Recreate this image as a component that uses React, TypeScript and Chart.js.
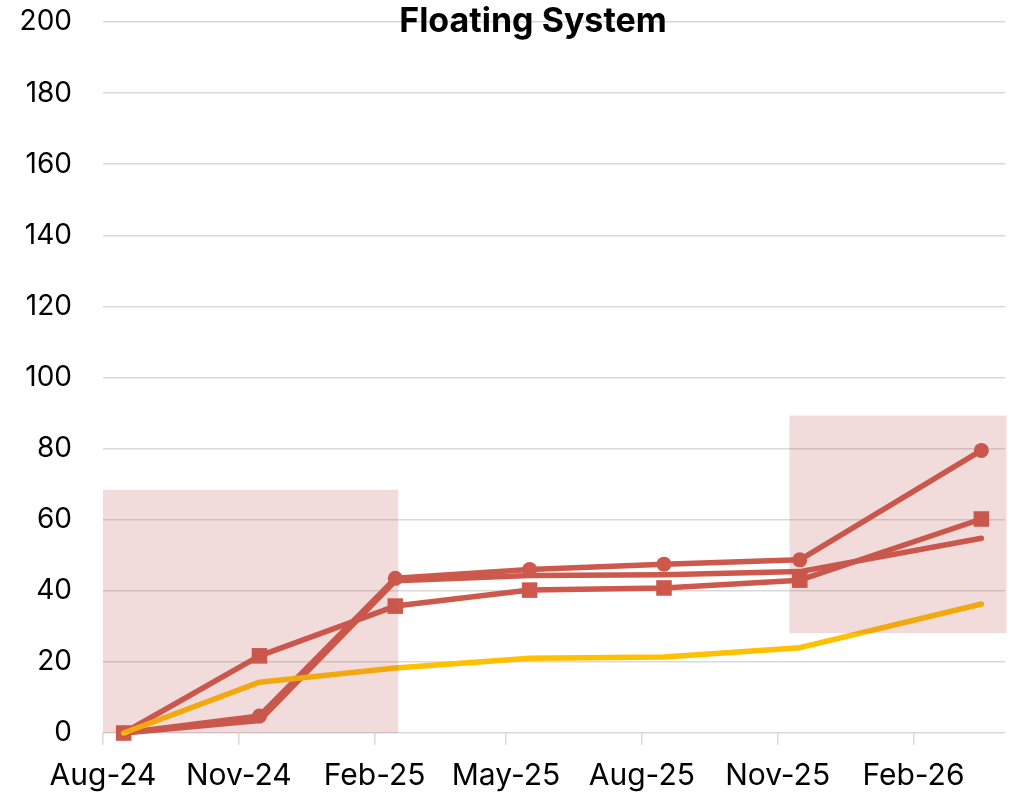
import { useEffect, useRef } from 'react';
import { Chart, registerables } from 'chart.js';

Chart.register(...registerables);

// ---- data ----
const pointDates = ['2024-08-15', '2024-11-15', '2025-02-15', '2025-05-17', '2025-08-16', '2025-11-16', '2026-03-19'];
const circleSeries = [0, 4.8, 43.5, 46, 47.5, 48.7, 79.5];
const squareSeries = [0, 21.7, 35.7, 40.2, 40.8, 43, 60.2];
const plainSeries = [0, 3.5, 42.8, 44.3, 44.5, 45.4, 54.8];
const yellowSeries = [0, 14.3, 18.3, 21, 21.4, 24, 36.3];

const tickDates = ['2024-08-01', '2024-11-01', '2025-02-01', '2025-05-01', '2025-08-01', '2025-11-01', '2026-02-01'];
const tickLabels = ['Aug-24', 'Nov-24', 'Feb-25', 'May-25', 'Aug-25', 'Nov-25', 'Feb-26'];
const yTicks = [0, 20, 40, 60, 80, 100, 120, 140, 160, 180, 200];

const axisRange = ['2024-08-01', '2026-04-04'];
const highlight1X = ['2024-08-01', '2025-02-17'];
const highlight1Y = [0, 68.4];
const highlight2X = ['2025-11-09', '2026-04-05'];
const highlight2Y = [28.1, 89.3];

const titleText = 'Floating System';

// ---- helpers ----
const DAY = 86400000;
const base = Date.UTC(2024, 7, 1);
const toDay = (s: string) => {
  const [y, m, d] = s.split('-').map(Number);
  return (Date.UTC(y, m - 1, d) - base) / DAY;
};

const RED = 'rgb(205,89,77)';
const YELLOW = '#FFC000';
const GRID = '#d9d9d9';
const FONT = 'Inter, "Liberation Sans", Arial, sans-serif';

const xy = (vals: number[]) => vals.map((v, i) => ({ x: toDay(pointDates[i]), y: v }));

const overlayPlugin = {
  id: 'overlayBoxes',
  afterDatasetsDraw(chart: any) {
    const { ctx, scales } = chart;
    const xs = scales.x;
    const ys = scales.y;
    const boxes = [
      [highlight1X, highlight1Y],
      [highlight2X, highlight2Y],
    ] as [string[], number[]][];
    ctx.save();
    ctx.fillStyle = 'rgba(192,80,77,0.2)';
    for (const [bx, by] of boxes) {
      const x0 = xs.getPixelForValue(toDay(bx[0]));
      const x1 = xs.getPixelForValue(toDay(bx[1]));
      const y0 = ys.getPixelForValue(by[0]);
      const y1 = ys.getPixelForValue(by[1]);
      ctx.fillRect(x0, y1, x1 - x0, y0 - y1);
    }
    ctx.restore();
  },
};

const titlePlugin = {
  id: 'floatTitle',
  afterDraw(chart: any) {
    const { ctx } = chart;
    ctx.save();
    ctx.font = `bold 34px ${FONT}`;
    ctx.fillStyle = '#000';
    ctx.textAlign = 'center';
    ctx.textBaseline = 'middle';
    ctx.fillText(titleText, 533, 22);
    ctx.restore();
  },
};

export default function App() {
  const ref = useRef<HTMLCanvasElement | null>(null);
  useEffect(() => {
    if (!ref.current) return;
    const common = { fill: false, tension: 0, borderWidth: 5.5, borderCapStyle: 'round', borderJoinStyle: 'round', clip: false };
    const chart = new Chart(ref.current, {
      type: 'line',
      data: {
        datasets: [
          { ...common, label: 'Yellow', data: xy(yellowSeries), borderColor: YELLOW, backgroundColor: YELLOW, pointRadius: 0 },
          { ...common, label: 'Squares', data: xy(squareSeries), borderColor: RED, backgroundColor: RED, pointStyle: 'rect', pointRadius: 11, pointBorderWidth: 0 },
          { ...common, label: 'Plain', data: xy(plainSeries), borderColor: RED, backgroundColor: RED, pointRadius: 0 },
          { ...common, label: 'Circles', data: xy(circleSeries), borderColor: RED, backgroundColor: RED, pointStyle: 'circle', pointRadius: 7.5, pointBorderWidth: 0 },
        ] as any,
      },
      options: {
        animation: false,
        responsive: true,
        maintainAspectRatio: false,
        layout: { padding: { top: 22, right: 12, left: 0, bottom: 0 } },
        plugins: { legend: { display: false }, tooltip: { enabled: false }, title: { display: false } },
        scales: {
          x: {
            type: 'linear',
            min: toDay(axisRange[0]),
            max: toDay(axisRange[1]),
            afterBuildTicks: (scale: any) => {
              scale.ticks = tickDates.map((d) => ({ value: toDay(d) }));
            },
            afterFit: (scale: any) => {
              scale.height = 64;
              scale.paddingLeft = 0;
              scale.paddingRight = 0;
            },
            ticks: {
              autoSkip: false,
              maxRotation: 0,
              padding: 13,
              color: '#000',
              font: { family: FONT, size: 30 },
              callback: (_v: any, i: number) => tickLabels[i],
            },
            grid: { drawOnChartArea: false, drawTicks: true, tickLength: 12, color: GRID, lineWidth: 1.5 },
            border: { display: false },
          },
          y: {
            min: 0,
            max: 200,
            afterBuildTicks: (scale: any) => {
              scale.ticks = yTicks.map((v) => ({ value: v }));
            },
            afterFit: (scale: any) => {
              scale.width = 103;
              scale.paddingTop = 0;
              scale.paddingBottom = 0;
            },
            ticks: {
              padding: 31,
              color: '#000',
              font: { family: FONT, size: 28 },
            },
            grid: { drawTicks: false, color: GRID, lineWidth: 1.5 },
            border: { display: false },
          },
        },
      } as any,
      plugins: [overlayPlugin, titlePlugin],
    });
    return () => chart.destroy();
  }, []);
  return (
    <div style={{ position: 'fixed', left: 0, top: 0, width: 1017, height: 797, background: '#fff' }}>
      <canvas ref={ref} />
    </div>
  );
}
